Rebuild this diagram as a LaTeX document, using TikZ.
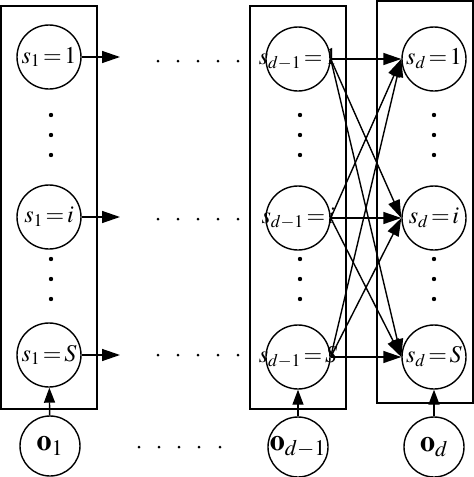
\documentclass[tikz,border=0pt]{standalone}
\usepackage{mathptmx}
\usetikzlibrary{arrows.meta}
\begin{document}
\begin{tikzpicture}[x=1pt,y=-1pt,line width=1.4pt,
  stnode/.style={circle,draw,minimum size=64pt,inner sep=0pt},
  obnode/.style={circle,draw,minimum size=60pt,inner sep=0pt},
  sl/.style={font=\fontsize{24}{28}\selectfont},
  ol/.style={font=\fontsize{30}{34}\selectfont},
  plate/.style={draw,line width=1.4pt},
  arr/.style={-{Triangle[length=18pt,width=12pt]}},
  varr/.style={-{Triangle[length=15pt,width=11pt]}}]
\useasboundingbox (0,0) rectangle (474,477);
% plates
\draw[plate] (1,6) rectangle (97,409);
\draw[plate] (250,6) rectangle (346,409);
\draw[plate] (377,1) rectangle (473,403);
% state nodes
\node[stnode,label={[sl]center:$s_1\!=\!1$}] (a1) at (49,57) {};
\node[stnode,label={[sl]center:$s_1\!=\!i$}] (ai) at (49,217) {};
\node[stnode,label={[sl]center:$s_1\!=\!S$}] (aS) at (49,355) {};
\node[stnode,label={[sl]center:$s_{d-1}\!=\!1$}] (b1) at (298,59) {};
\node[stnode,label={[sl]center:$s_{d-1}\!=\!i$}] (bi) at (298,218) {};
\node[stnode,label={[sl]center:$s_{d-1}\!=\!S$}] (bS) at (298,357) {};
\node[stnode,label={[sl]center:$s_d\!=\!1$}] (c1) at (434,59) {};
\node[stnode,label={[sl]center:$s_d\!=\!i$}] (ci) at (434,218) {};
\node[stnode,label={[sl]center:$s_d\!=\!S$}] (cS) at (434,357) {};
% observation nodes
\node[obnode,label={[ol]center:$\mathbf{o}_1$}] (o1) at (50,446) {};
\node[obnode,label={[ol]center:$\mathbf{o}_{d-1}$}] (od1) at (298,447) {};
\node[obnode,label={[ol]center:$\mathbf{o}_d$}] (od) at (434,447) {};
% vertical dots
\foreach \x in {51,300,434}{
  \foreach \y in {115,135,155,259,279,299}{
    \fill (\x,\y) circle (2.2pt);
  }
}
% horizontal dots
\foreach \x in {158,178,198,218,238}{
  \foreach \y in {61,219,355}{
    \fill (\x,\y) circle (1.5pt);
  }
}
\foreach \x in {139,159,179,199,220}{
  \fill (\x,447) circle (1.5pt);
}
% arrows from first column
\coordinate (e1) at (120,57);
\coordinate (ei) at (120,217);
\coordinate (eS) at (120,355);
\draw[arr] (a1.east) -- (e1);
\draw[arr] (ai.east) -- (ei);
\draw[arr] (aS.east) -- (eS);
% full transitions
\foreach \s in {b1,bi,bS}{
  \foreach \t in {c1,ci,cS}{
    \draw[arr] (\s.east) -- (\t.west);
  }
}
% observations
\draw[varr] (o1) -- (aS);
\draw[varr] (od1) -- (bS);
\draw[varr] (od) -- (cS);
\end{tikzpicture}
\end{document}
